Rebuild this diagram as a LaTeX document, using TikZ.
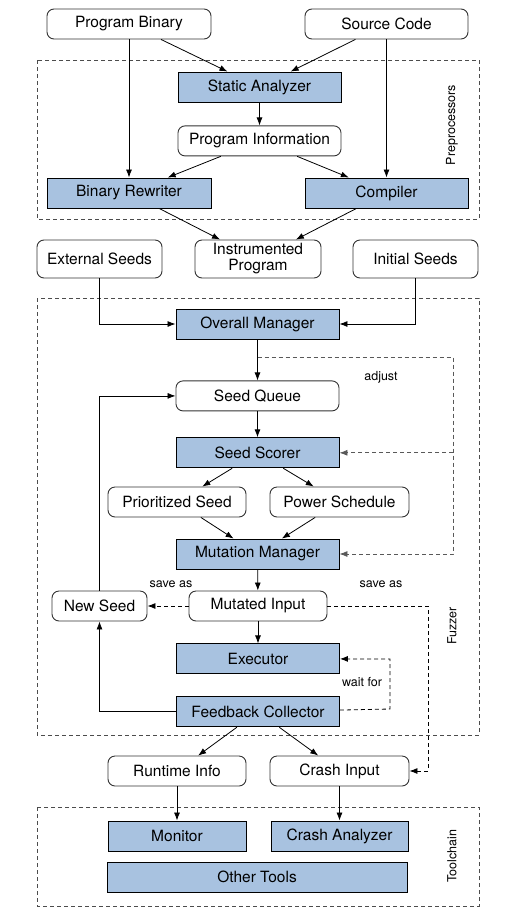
\documentclass[tikz,border=0pt]{standalone}
\usepackage{fontspec}
\setmainfont{TeX Gyre Heros}
\usetikzlibrary{
  arrows.meta,
  positioning
}
\definecolor{toolblue}{RGB}{168,194,224}
\tikzset{
  every node/.style={font=\fontsize{15.5}{17}\selectfont, inner sep=0pt, align=center},
  tool/.style={draw, fill=toolblue, line width=0.9pt, minimum width=163pt, minimum height=30pt},
  data/.style={draw=black!80, line width=0.9pt, rounded corners=7pt, minimum width=163pt, minimum height=30pt},
  group/.style={draw=black!70, line width=0.8pt, dash pattern=on 4pt off 3pt},
  grouplabel/.style={rotate=90, font=\fontsize{12.5}{14}\selectfont},
  note/.style={font=\fontsize{12.5}{14}\selectfont},
  arr/.style={line width=0.8pt, -{Latex[length=8pt,width=6pt]}},
  darr/.style={arr, dash pattern=on 4pt off 3pt},
  adjline/.style={darr, draw=black!65},
}

\begin{document}
\begin{tikzpicture}[x=1pt, y=1pt]
  \useasboundingbox (0,0) rectangle (513,-916);

  % preprocessors
  \draw[group] (37,-60) rectangle (479,-219);
  \node[grouplabel] (prelabel) at (452,-125) {Preprocessors};

  \node[data, minimum width=164pt] (pbin) at (129,-24) {Program Binary};
  \node[data] (src) at (386.5,-24) {Source Code};
  \node[tool] (static) at (259.5,-87) {Static Analyzer};
  \node[data, below=23pt of static] (proginfo) {Program Information};
  \node[tool, minimum width=164pt] (rewriter) at (129,-193) {Binary Rewriter};
  \node[tool] (compiler) at (386.5,-193) {Compiler};

  \draw[arr] (pbin) -- (static);
  \draw[arr] (src) -- (static);
  \draw[arr] (pbin) -- (rewriter);
  \draw[arr] (src) -- (compiler);
  \draw[arr] (static) -- (proginfo);
  \draw[arr] (proginfo) -- (rewriter);
  \draw[arr] (proginfo) -- (compiler);

  \node[data, minimum width=126pt, minimum height=38pt] (instr) at (258,-259) {Instrumented\\[-1pt]Program};
  \node[data, minimum width=125pt, minimum height=38pt] (extseeds) at (99.5,-259) {External Seeds};
  \node[data, minimum width=125pt, minimum height=38pt] (initseeds) at (415.5,-259) {Initial Seeds};

  \draw[arr] (rewriter) -- (instr);
  \draw[arr] (compiler) -- (instr);

  % fuzzer
  \draw[group] (37,-298) rectangle (479,-735);
  \node[grouplabel] (fuzzlabel) at (452,-626) {Fuzzer};

  \node[tool] (overall) at (257.5,-324) {Overall Manager};
  \node[data, below=41pt of overall] (queue) {Seed Queue};
  \node[tool, below=26pt of queue] (scorer) {Seed Scorer};
  \node[data, minimum width=138pt] (prio) at (177,-502) {Prioritized Seed};
  \node[data, minimum width=139pt] (power) at (339.5,-502) {Power Schedule};
  \node[tool] (mutmgr) at (257.5,-554) {Mutation Manager};
  \node[data, minimum width=138pt] (mutin) at (258,-606) {Mutated Input};
  \node[data, minimum width=95pt] (newseed) at (99.5,-606) {New Seed};
  \node[tool, below=22pt of mutin] (executor) {Executor};
  \node[tool, below=22pt of executor] (collector) {Feedback Collector};

  \draw[arr] (extseeds) |- (overall);
  \draw[arr] (initseeds) |- (overall);
  \draw[arr] (overall) -- (queue);
  \draw[arr] (queue) -- (scorer);
  \draw[arr] (scorer) -- (prio);
  \draw[arr] (scorer) -- (power);
  \draw[arr] (prio) -- (mutmgr);
  \draw[arr] (power) -- (mutmgr);
  \draw[arr] (mutmgr) -- (mutin);
  \draw[arr] (mutin) -- (executor);
  \draw[arr] (newseed) |- (queue);
  \draw[arr] (collector) -| (newseed);

  % adjust
  \coordinate (adjbend) at (453,-357);
  \draw[adjline] (overall.south |- adjbend) -- (adjbend) |- (mutmgr);
  \draw[adjline] (adjbend |- scorer) -- (scorer);
  \node[note] (adjlabel) at (381,-377) {adjust};

  % save as / wait for
  \coordinate (crashbend) at (428,-606);
  \coordinate (waitbend) at (390,-709);
  \draw[darr] (mutin) -- (newseed);
  \node[note] (savelabel) at (171,-584) {save as};
  \node[note] (crashlabel) at (381,-584) {save as};
  \draw[darr] (collector) -- (waitbend) |- (executor);
  \node[note] (waitlabel) at (362,-682) {wait for};

  \node[data, minimum width=138pt] (runtime) at (177,-771) {Runtime Info};
  \node[data, minimum width=139pt] (crashin) at (339.5,-771) {Crash Input};

  \draw[arr] (collector) -- (runtime);
  \draw[arr] (collector) -- (crashin);
  \draw[darr] (mutin) -- (crashbend) |- (crashin);

  % toolchain
  \draw[group] (37,-807) rectangle (479,-906);
  \node[grouplabel] (toollabel) at (452,-856) {Toolchain};

  \node[tool, minimum width=138pt] (monitor) at (177,-836) {Monitor};
  \node[tool, minimum width=137pt] (crashan) at (339.5,-836) {Crash Analyzer};
  \node[tool, minimum width=300pt] (others) at (257,-877) {Other Tools};

  \draw[arr] (runtime) -- (monitor);
  \draw[arr] (crashin) -- (crashan);
\end{tikzpicture}
\end{document}
